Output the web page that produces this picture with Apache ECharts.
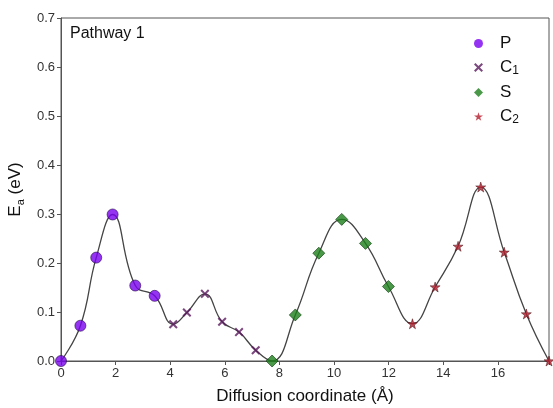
<!DOCTYPE html>
<html>
<head>
<meta charset="utf-8">
<script src="https://cdn.jsdelivr.net/npm/echarts@6/dist/echarts.min.js"></script>
<style>
  html, body { margin: 0; padding: 0; background: #fff; }
  #chart { width: 553px; height: 408px; }
</style>
</head>
<body>
<div id="chart"></div>
<script>
// values
var pX = [0, 0.71, 1.29, 1.89, 2.72, 3.43];
var pY = [0, 0.072, 0.211, 0.299, 0.154, 0.133];
var c1X = [4.11, 4.61, 5.27, 5.90, 6.52, 7.13];
var c1Y = [0.075, 0.099, 0.137, 0.080, 0.059, 0.022];
var sX = [7.73, 8.58, 9.44, 10.28, 11.15, 11.99];
var sY = [0, 0.094, 0.220, 0.289, 0.240, 0.152];
var c2X = [12.87, 13.70, 14.54, 15.37, 16.23, 17.04, 17.87];
var c2Y = [0.076, 0.151, 0.234, 0.355, 0.222, 0.096, 0];
var xTicks = [0, 2, 4, 6, 8, 10, 12, 14, 16];

function pairs(xs, ys) {
  return xs.map(function (x, i) { return [x, ys[i]]; });
}
var curve = pairs(pX, pY).concat(pairs(c1X, c1Y), pairs(sX, sY), pairs(c2X, c2Y));

var crossPath = 'path://M0,1.6 L1.6,0 L5,3.4 L8.4,0 L10,1.6 L6.6,5 L10,8.4 L8.4,10 L5,6.6 L1.6,10 L0,8.4 L3.4,5 Z';
var starPath = 'path://M50,0 L61,35 L98,35 L68,57 L79,91 L50,70 L21,91 L32,57 L2,35 L39,35 Z';
var font = 'Arial, "Liberation Sans", sans-serif';

var chart = echarts.init(document.getElementById('chart'));
var option = {
  animation: false,
  textStyle: { fontFamily: font },
  title: {
    text: 'Pathway 1',
    left: 65,
    top: 21,
    textStyle: { fontSize: 16, fontWeight: 'normal', color: '#111', fontFamily: font }
  },
  grid: {
    left: 61, right: 4, top: 18, bottom: 47,
    outerBoundsMode: 'none',
    containLabel: false,
    show: true, borderColor: '#555', borderWidth: 1
  },
  legend: {
    orient: 'vertical',
    left: 469,
    top: 30,
    itemWidth: 9,
    itemHeight: 9,
    itemGap: 7,
    itemStyle: { borderWidth: 0 },
    data: [
      { name: 'P', icon: 'circle' },
      { name: 'C1', icon: crossPath },
      { name: 'S', icon: 'diamond' },
      { name: 'C2', icon: starPath }
    ],
    formatter: function (name) {
      if (name === 'C1') return '{n|C}{s|1}';
      if (name === 'C2') return '{n|C}{s|2}';
      return '{n|' + name + '}';
    },
    textStyle: {
      color: '#111',
      padding: [0, 0, 0, 12],
      rich: {
        n: { fontSize: 17, lineHeight: 19, color: '#111', fontFamily: font },
        s: { fontSize: 12, lineHeight: 10, verticalAlign: 'bottom', color: '#111', fontFamily: font }
      }
    }
  },
  xAxis: {
    type: 'value',
    min: 0,
    max: 17.87,
    interval: 2,
    name: 'Diffusion coordinate (Å)',
    nameLocation: 'middle',
    nameGap: 27,
    nameTextStyle: { fontSize: 17, color: '#111', fontFamily: font },
    axisLine: { lineStyle: { color: '#555' } },
    axisTick: { inside: false, length: 4, lineStyle: { color: '#555' } },
    axisLabel: {
      fontSize: 13, color: '#333', margin: 6,
      formatter: function (v) { return xTicks.indexOf(v) >= 0 ? String(v) : ''; }
    },
    splitLine: { show: false }
  },
  yAxis: {
    type: 'value',
    min: 0,
    max: 0.7,
    interval: 0.1,
    name: '{n|E}{s|a}{n| (eV)}',
    nameLocation: 'middle',
    nameGap: 28,
    nameTextStyle: {
      color: '#111',
      rich: {
        n: { fontSize: 17, lineHeight: 22, color: '#111', fontFamily: font },
        s: { fontSize: 11, lineHeight: 12, verticalAlign: 'bottom', color: '#111', fontFamily: font }
      }
    },
    axisLine: { lineStyle: { color: '#555' } },
    axisTick: { inside: false, length: 4, lineStyle: { color: '#555' } },
    axisLabel: {
      fontSize: 13, color: '#333', margin: 6,
      formatter: function (v) { return v.toFixed(1); }
    },
    splitLine: { show: false }
  },
  series: [
    {
      name: 'curve',
      type: 'line',
      data: curve,
      smooth: 0.45,
      showSymbol: false,
      symbol: 'none',
      lineStyle: { color: '#444', width: 1.3 },
      z: 1,
      silent: true
    },
    {
      name: 'P', type: 'scatter', data: pairs(pX, pY),
      symbol: 'circle', symbolSize: 11, z: 3,
      itemStyle: { color: '#7a00f0', borderColor: '#2a1050', borderWidth: 0.8 }
    },
    {
      name: 'C1', type: 'scatter', data: pairs(c1X, c1Y),
      symbol: crossPath, symbolSize: 9, z: 3,
      itemStyle: { color: '#5a1a5e' }
    },
    {
      name: 'S', type: 'scatter', data: pairs(sX, sY),
      symbol: 'diamond', symbolSize: 12, z: 3,
      itemStyle: { color: '#1c7f1c', borderColor: '#0e3a0e', borderWidth: 0.8 }
    },
    {
      name: 'C2', type: 'scatter', data: pairs(c2X, c2Y),
      symbol: starPath, symbolSize: 10, z: 3,
      itemStyle: { color: '#b31b2b', borderColor: '#3a0a0e', borderWidth: 0.6 }
    }
  ]
};
chart.setOption(option);
</script>
</body>
</html>
